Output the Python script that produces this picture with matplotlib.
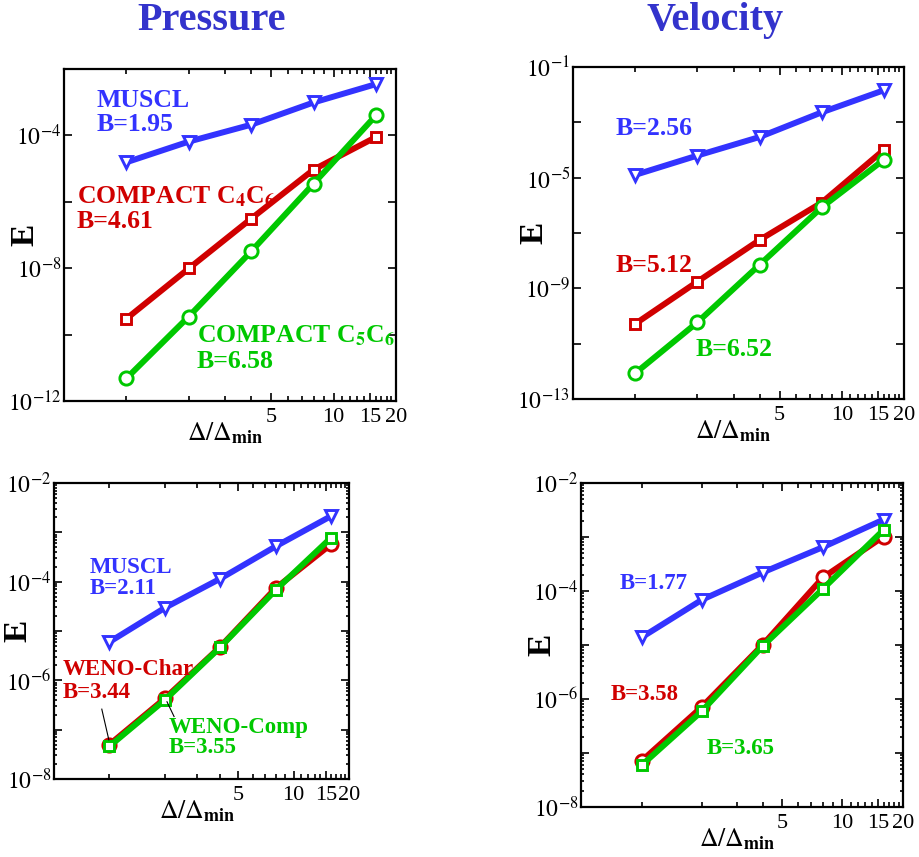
import numpy as np
import matplotlib
matplotlib.use("Agg")
import matplotlib.pyplot as plt
from matplotlib.ticker import FixedLocator, FuncFormatter, NullFormatter

plt.rcParams['font.family'] = ['Liberation Serif', 'DejaVu Serif']
plt.rcParams['mathtext.fontset'] = 'stix'

# ---------------- data ----------------
dx = [1, 2, 4, 8, 16]

# Pressure (top)
muscl_p1 = [1.55e-5, 6.5e-5, 2.1e-4, 9.8e-4, 3.5e-3]
c4c6_p = [3.0e-10, 9.8e-9, 3.1e-7, 9.3e-6, 8.9e-5]
c5c6_p = [4.8e-12, 3.5e-10, 3.2e-8, 3.5e-6, 4.0e-4]

# Velocity (top)
muscl_v1 = [1.26e-5, 6.3e-5, 2.95e-4, 2.3e-3, 1.45e-2]
c4c6_v = [5.2e-11, 1.74e-9, 5.6e-8, 1.26e-6, 1.02e-4]
c5c6_v = [8.5e-13, 5.9e-11, 7.1e-9, 8.5e-7, 4.5e-5]

# Pressure (bottom)
muscl_p2 = [6.0e-6, 2.95e-5, 1.15e-4, 5.2e-4, 2.14e-3]
wchar_p = [5.0e-8, 4.3e-7, 4.8e-6, 7.4e-5, 5.75e-4]
wcomp_p = [4.6e-8, 4.0e-7, 4.7e-6, 6.8e-5, 7.8e-4]

# Velocity (bottom)
muscl_v2 = [1.38e-5, 6.9e-5, 2.2e-4, 6.5e-4, 2.1e-3]
wchar_v = [7.1e-8, 7.2e-7, 1.0e-5, 1.78e-4, 1.02e-3]
wcomp_v = [5.9e-8, 6.0e-7, 9.5e-6, 1.1e-4, 1.35e-3]

x_major = [5, 10, 15, 20]
x_minor = [1, 2, 3, 4, 6, 7, 8, 9, 11, 12, 13, 14, 16, 17, 18, 19]

BLUE = '#3333ff'
RED = '#d00000'
GREEN = '#00c800'
TITLE_BLUE = '#3333cc'

W, H = 919, 857
fig = plt.figure(figsize=(W / 100, H / 100), dpi=100)


def make_ax(x0, x1, y0, y1):
    return fig.add_axes([x0 / W, (H - y1) / H, (x1 - x0) / W, (y1 - y0) / H])


def style(ax, ylim, ymaj, ylab, yminor, pxw, pxh, ylabel_off):
    ax.set_xscale('log')
    ax.set_yscale('log')
    ax.set_xlim(0.5, 20)
    ax.set_ylim(*ylim)
    ax.xaxis.set_major_locator(FixedLocator(x_major))
    ax.xaxis.set_minor_locator(FixedLocator(x_minor))
    ax.xaxis.set_major_formatter(FuncFormatter(lambda v, p: '%d' % v))
    ax.xaxis.set_minor_formatter(NullFormatter())
    ax.yaxis.set_major_locator(FixedLocator([10.0 ** e for e in ymaj]))
    ax.yaxis.set_major_formatter(FuncFormatter(
        lambda v, p: (r'$10^{%d}$' % round(np.log10(v))) if round(np.log10(v)) in ylab else ''))
    if yminor:
        mins = []
        for e in range(int(np.log10(ylim[0])), int(np.log10(ylim[1]))):
            mins += [k * 10.0 ** e for k in range(2, 10)]
        ax.yaxis.set_minor_locator(FixedLocator(mins))
    else:
        ax.yaxis.set_minor_locator(FixedLocator([]))
    ax.yaxis.set_minor_formatter(NullFormatter())
    ax.tick_params(which='both', direction='in', top=True, right=True, width=1.2)
    ax.tick_params(axis='x', which='major', length=6, labelsize=16, pad=5)
    ax.tick_params(axis='x', which='minor', length=3.5)
    ax.tick_params(axis='y', which='major', length=5.5, labelsize=17, pad=2)
    ax.tick_params(axis='y', which='minor', length=2.5)
    for s in ax.spines.values():
        s.set_linewidth(1.6)
    ax.set_xlabel(r'$\Delta/\Delta_{\mathbf{min}}$', fontsize=18.5, va='top')
    ax.xaxis.set_label_coords(0.485, -19 / pxh)
    ax.set_ylabel('E', fontsize=24, fontweight='bold', va='center')
    ax.yaxis.set_label_coords(-ylabel_off / pxw, 0.5)


def line(ax, y, color, marker, ms, lw=4.3, z=2):
    ax.plot(dx, y, color=color, lw=lw, marker=marker, ms=ms, mfc='white',
            mec=color, mew=2.1, zorder=z, solid_capstyle='round')


def txt(ax, fx, fy, s, color, size):
    ax.text(fx, fy, s, transform=ax.transAxes, color=color, fontsize=size,
            fontweight='bold', ha='left', va='baseline')


TS = 18.5
BS = 16.5

# --- top left: pressure ---
ax1 = make_ax(64, 396, 69, 401)
style(ax1, (1e-12, 1e-2), [-12, -10, -8, -6, -4, -2], [-12, -8, -4], False, 332, 332, 39)
line(ax1, muscl_p1, BLUE, 'v', 8.5)
line(ax1, c4c6_p, RED, 's', 7)
line(ax1, c5c6_p, GREEN, 'o', 9.5)
txt(ax1, 0.099, 0.886, 'MUSCL', BLUE, TS)
txt(ax1, 0.099, 0.814, 'B=1.95', BLUE, TS)
txt(ax1, 0.038, 0.596, r'COMPACT C$_\mathbf{4}$C$_\mathbf{6}$', RED, TS)
txt(ax1, 0.038, 0.521, 'B=4.61', RED, TS)
txt(ax1, 0.400, 0.175, r'COMPACT C$_\mathbf{5}$C$_\mathbf{6}$', GREEN, TS)
txt(ax1, 0.400, 0.099, 'B=6.58', GREEN, TS)

# --- top right: velocity ---
ax2 = make_ax(573, 904, 67, 399)
style(ax2, (1e-13, 1e-1), [-13, -11, -9, -7, -5, -3, -1], [-13, -9, -5, -1], False, 331, 332, 39)
line(ax2, muscl_v1, BLUE, 'v', 8.5)
line(ax2, c4c6_v, RED, 's', 7)
line(ax2, c5c6_v, GREEN, 'o', 9.5)
txt(ax2, 0.130, 0.795, 'B=2.56', BLUE, TS)
txt(ax2, 0.130, 0.383, 'B=5.12', RED, TS)
txt(ax2, 0.369, 0.130, 'B=6.52', GREEN, TS)

# --- bottom left: pressure ---
ax3 = make_ax(54, 349, 483, 779)
style(ax3, (1e-8, 1e-2), [-8, -7, -6, -5, -4, -3, -2], [-8, -6, -4, -2], True, 295, 296, 36)
line(ax3, muscl_p2, BLUE, 'v', 8.5)
line(ax3, wchar_p, RED, 'o', 9.5, lw=4.3, z=2)
line(ax3, wcomp_p, GREEN, 's', 6.5, lw=4.3, z=3)
txt(ax3, 0.120, 0.697, 'MUSCL', BLUE, BS)
txt(ax3, 0.120, 0.625, 'B=2.11', BLUE, BS)
txt(ax3, 0.031, 0.351, 'WENO-Char', RED, BS)
txt(ax3, 0.031, 0.274, 'B=3.44', RED, BS)
txt(ax3, 0.390, 0.155, 'WENO-Comp', GREEN, BS)
txt(ax3, 0.390, 0.088, 'B=3.55', GREEN, BS)
ax3.plot([0.162, 0.186], [0.236, 0.132], transform=ax3.transAxes, color='black', lw=0.8, zorder=4)
ax3.plot([0.383, 0.407], [0.261, 0.211], transform=ax3.transAxes, color='black', lw=0.8, zorder=4)

# --- bottom right: velocity ---
ax4 = make_ax(581, 903, 483, 807)
style(ax4, (1e-8, 1e-2), [-8, -7, -6, -5, -4, -3, -2], [-8, -6, -4, -2], True, 322, 324, 39)
line(ax4, muscl_v2, BLUE, 'v', 8.5)
line(ax4, wchar_v, RED, 'o', 9.5, lw=4.3, z=2)
line(ax4, wcomp_v, GREEN, 's', 6.5, lw=4.3, z=3)
txt(ax4, 0.121, 0.673, 'B=1.77', BLUE, BS)
txt(ax4, 0.092, 0.330, 'B=3.58', RED, BS)
txt(ax4, 0.391, 0.164, 'B=3.65', GREEN, BS)

fig.text(212 / W, 1 - 30 / H, 'Pressure', color=TITLE_BLUE, fontsize=29,
         fontweight='bold', ha='center', va='baseline')
fig.text(715 / W, 1 - 30 / H, 'Velocity', color=TITLE_BLUE, fontsize=29,
         fontweight='bold', ha='center', va='baseline')

fig.savefig('out.png', dpi=100)
